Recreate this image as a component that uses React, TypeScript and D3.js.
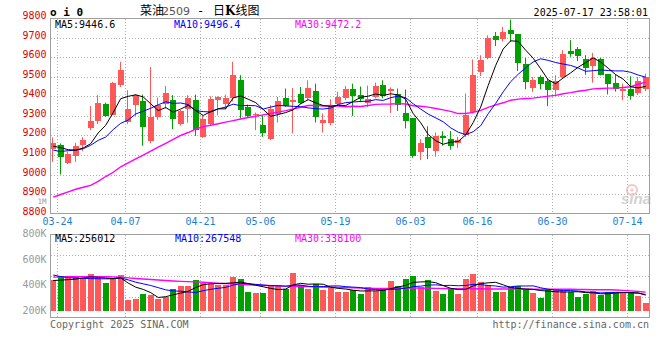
import * as d3 from "d3";

// daily candles, 03-21 .. 07-17 (index 0 is the half-hidden first bar)
const open = [9130, 9150, 9060, 9096, 9150, 9236, 9273, 9363, 9307, 9457, 9270, 9355, 9375, 9171, 9292, 9363, 9383, 9258, 9337, 9380, 9193, 9261, 9380, 9363, 9389, 9482, 9346, 9305, 9253, 9181, 9312, 9389, 9372, 9411, 9389, 9426, 9264, 9264, 9363, 9389, 9436, 9409, 9368, 9397, 9460, 9425, 9410, 9317, 9288, 9116, 9190, 9121, 9196, 9181, 9162, 9202, 9320, 9524, 9598, 9708, 9693, 9737, 9717, 9566, 9444, 9500, 9480, 9434, 9500, 9631, 9640, 9589, 9555, 9589, 9512, 9466, 9425, 9438, 9415, 9436];
const high = [9190, 9159, 9116, 9162, 9191, 9351, 9406, 9368, 9474, 9576, 9431, 9412, 9409, 9550, 9394, 9453, 9406, 9330, 9406, 9409, 9303, 9400, 9400, 9409, 9576, 9508, 9358, 9317, 9303, 9355, 9397, 9440, 9443, 9448, 9482, 9465, 9312, 9385, 9423, 9453, 9465, 9450, 9455, 9470, 9482, 9445, 9440, 9435, 9290, 9181, 9247, 9215, 9222, 9222, 9193, 9414, 9589, 9610, 9712, 9729, 9755, 9792, 9717, 9596, 9499, 9507, 9490, 9507, 9636, 9687, 9652, 9610, 9622, 9596, 9512, 9511, 9465, 9503, 9499, 9516];
const low = [9065, 9001, 9054, 9065, 9120, 9227, 9258, 9295, 9304, 9448, 9258, 9300, 9147, 9160, 9280, 9337, 9232, 9250, 9265, 9198, 9188, 9253, 9303, 9334, 9375, 9287, 9290, 9227, 9193, 9176, 9266, 9346, 9210, 9360, 9380, 9266, 9215, 9252, 9355, 9380, 9300, 9370, 9345, 9390, 9390, 9315, 9325, 9236, 9086, 9074, 9079, 9091, 9147, 9127, 9137, 9193, 9312, 9504, 9589, 9657, 9680, 9678, 9530, 9436, 9423, 9436, 9350, 9406, 9492, 9602, 9580, 9510, 9470, 9507, 9410, 9424, 9380, 9383, 9406, 9426];
const close = [9164, 9091, 9103, 9145, 9176, 9273, 9366, 9300, 9468, 9533, 9333, 9406, 9244, 9295, 9355, 9416, 9285, 9324, 9389, 9227, 9283, 9385, 9397, 9389, 9508, 9329, 9300, 9312, 9215, 9334, 9375, 9351, 9380, 9368, 9443, 9295, 9278, 9358, 9397, 9436, 9400, 9385, 9385, 9455, 9400, 9438, 9355, 9275, 9094, 9162, 9137, 9195, 9188, 9147, 9179, 9307, 9508, 9584, 9700, 9690, 9729, 9717, 9570, 9474, 9484, 9462, 9430, 9477, 9618, 9615, 9606, 9546, 9598, 9510, 9462, 9437, 9435, 9401, 9480, 9500];

const ma5 = [9145, 9138, 9127, 9125, 9136, 9158, 9213, 9252, 9317, 9388, 9400, 9408, 9397, 9362, 9327, 9343, 9319, 9335, 9354, 9328, 9302, 9322, 9336, 9336, 9392, 9402, 9385, 9368, 9333, 9298, 9307, 9317, 9331, 9362, 9383, 9367, 9353, 9348, 9354, 9353, 9374, 9395, 9401, 9412, 9405, 9413, 9407, 9385, 9312, 9265, 9205, 9173, 9155, 9166, 9169, 9203, 9266, 9345, 9456, 9558, 9642, 9684, 9681, 9636, 9595, 9541, 9484, 9465, 9494, 9520, 9549, 9572, 9597, 9575, 9544, 9511, 9488, 9449, 9443, 9451];
const ma10 = [9125, 9118, 9122, 9125, 9132, 9150, 9175, 9192, 9230, 9262, 9279, 9310, 9324, 9339, 9357, 9372, 9364, 9366, 9358, 9327, 9322, 9320, 9336, 9345, 9360, 9352, 9353, 9352, 9335, 9345, 9354, 9351, 9349, 9347, 9341, 9337, 9335, 9340, 9358, 9368, 9371, 9374, 9375, 9383, 9379, 9393, 9401, 9393, 9362, 9335, 9309, 9290, 9270, 9239, 9217, 9204, 9219, 9250, 9311, 9364, 9423, 9475, 9513, 9546, 9576, 9592, 9584, 9573, 9565, 9558, 9545, 9528, 9531, 9535, 9532, 9530, 9530, 9523, 9509, 9498];
const ma30 = [8885, 8898, 8912, 8925, 8935, 8945, 8965, 8990, 9012, 9040, 9060, 9080, 9100, 9120, 9140, 9160, 9180, 9200, 9215, 9232, 9245, 9252, 9260, 9268, 9276, 9284, 9292, 9298, 9305, 9312, 9319, 9327, 9336, 9344, 9353, 9354, 9351, 9353, 9350, 9347, 9349, 9348, 9353, 9359, 9360, 9361, 9363, 9361, 9352, 9349, 9345, 9338, 9331, 9323, 9312, 9312, 9318, 9328, 9344, 9356, 9367, 9380, 9386, 9389, 9391, 9396, 9401, 9405, 9413, 9419, 9426, 9431, 9438, 9440, 9442, 9442, 9445, 9449, 9462, 9473];

// volume in thousands
const volK = [441, 472, 454, 462, 454, 488, 454, 420, 449, 480, 284, 292, 331, 323, 292, 310, 370, 394, 394, 441, 420, 409, 402, 402, 464, 449, 347, 339, 339, 402, 402, 370, 498, 402, 370, 409, 362, 383, 349, 349, 362, 331, 383, 357, 362, 433, 394, 449, 472, 383, 441, 357, 331, 370, 331, 449, 488, 425, 402, 349, 349, 383, 394, 370, 341, 302, 362, 368, 357, 349, 310, 328, 357, 323, 349, 336, 349, 349, 315, 263];
const vma5 = [437, 440, 444, 448, 457, 466, 462, 456, 453, 458, 417, 385, 367, 342, 304, 310, 325, 338, 352, 382, 404, 412, 413, 415, 419, 425, 413, 400, 388, 375, 366, 370, 402, 415, 408, 410, 408, 385, 375, 370, 361, 355, 355, 356, 359, 373, 386, 399, 422, 426, 428, 420, 397, 376, 366, 368, 394, 413, 419, 423, 403, 382, 375, 369, 367, 358, 354, 349, 346, 348, 349, 342, 340, 333, 333, 339, 343, 341, 340, 322];
const vma10 = [480, 468, 460, 456, 454, 452, 451, 450, 451, 457, 442, 424, 411, 398, 381, 364, 355, 353, 347, 343, 357, 368, 376, 383, 401, 415, 412, 407, 401, 397, 396, 392, 401, 401, 392, 388, 389, 394, 395, 389, 385, 382, 370, 366, 365, 367, 370, 377, 389, 393, 401, 403, 398, 399, 396, 398, 407, 405, 398, 394, 385, 388, 394, 394, 395, 380, 368, 362, 358, 358, 354, 348, 344, 340, 341, 344, 343, 341, 337, 328];
const vma30 = [464, 466, 467, 468, 468, 468, 468, 467, 466, 463, 458, 453, 449, 445, 441, 437, 433, 430, 428, 426, 423, 419, 416, 413, 410, 407, 404, 402, 400, 397, 395, 393, 392, 390, 389, 388, 386, 384, 383, 381, 379, 377, 376, 375, 375, 375, 376, 377, 378, 377, 376, 375, 374, 373, 372, 372, 373, 372, 371, 371, 371, 370, 370, 370, 369, 369, 369, 368, 368, 368, 367, 366, 365, 364, 364, 363, 360, 356, 351, 346];

const dateTicks = ["03-24", "04-07", "04-21", "05-06", "05-19", "06-03", "06-16", "06-30", "07-14"];
const dateTickIdx = [1, 10, 20, 28, 38, 48, 57, 67, 77];
const priceTicks = [9800, 9700, 9600, 9500, 9400, 9300, 9200, 9100, 9000, 8900, 8800];
const volTicks = [800, 600, 400, 200];

const W = 660;
const H = 360;
const L = 50.5;
const R = 649.5;
const pTop = 18.5;
const pBot = 213.5;
const vTop = 234.5;
const vBot = 317.5;
const vBase = 310.7;

const RED = "#ff5858";
const GREEN = "#00a000";
const GRID = "#b0b0b0";
const BORDER = "#a0a0a0";
const MONO = "'DejaVu Sans Mono', monospace";

export default function App() {
  const x = d3.scaleLinear().domain([0, close.length - 1]).range([53.2, 645.7]);
  const y = d3.scaleLinear().domain([8800, 9800]).range([213.7, 18.1]);
  const vy = d3.scaleLinear().domain([200, 800]).range([vBase, 234.3]);

  const pLine = d3.line<number>().x((_, i) => x(i)).y((d) => y(d));
  const vLine = d3.line<number>().x((_, i) => x(i)).y((d) => vy(d));

  const gridX = dateTickIdx.map((k) => Math.round(x(k) - 3.5) + 0.5);
  const volGridY = [1, 2, 3].map((i) => Math.round(vTop + (i * (vBot - vTop)) / 4) + 0.5);

  return (
    <svg
      width={W}
      height={H}
      style={{ position: "absolute", left: 0, top: 0, background: "#fff" }}
      fontFamily={MONO}
      fontSize={10}
    >
      <defs>
        <clipPath id="clip-p">
          <rect x={L + 0.5} y={pTop} width={R - L - 0.5} height={pBot - pTop} />
        </clipPath>
        <clipPath id="clip-v">
          <rect x={L + 0.5} y={vTop} width={R - L - 0.5} height={vBot - vTop} />
        </clipPath>
      </defs>

      {/* header */}
      <text x={50} y={16} fontSize={11} fontWeight="bold" fill="#000">o i 0</text>
      <text x={140} y={15} fontSize={12} fontFamily="'Noto Sans CJK SC'" fill="#000">菜油</text>
      <text x={162} y={15} fontSize={11} fontFamily="'DejaVu Sans'" fill="#555">2509</text>
      <text x={197} y={15} fontSize={12} fill="#000">-</text>
      <text x={213} y={15} fontSize={12} fontFamily="'Noto Sans CJK SC'" fill="#000">
        日<tspan fontWeight="bold" fontFamily="'DejaVu Serif'">K</tspan>线图
      </text>
      <text x={648} y={15.5} textAnchor="end" fill="#000">2025-07-17 23:58:01</text>

      {/* price grid */}
      {priceTicks.slice(1, -1).map((p) => (
        <line key={p} x1={L} x2={R} y1={Math.round(y(p)) + 0.5} y2={Math.round(y(p)) + 0.5}
          stroke={GRID} strokeDasharray="1,2" shapeRendering="crispEdges" />
      ))}
      {gridX.map((gx, i) => (
        <g key={i}>
          <line x1={gx} x2={gx} y1={pTop} y2={pBot} stroke={GRID} strokeDasharray="1,2" shapeRendering="crispEdges" />
          <line x1={gx} x2={gx} y1={vTop} y2={vBot} stroke={GRID} strokeDasharray="1,2" shapeRendering="crispEdges" />
        </g>
      ))}
      {volGridY.map((gy) => (
        <line key={gy} x1={L} x2={R} y1={gy} y2={gy} stroke={GRID} strokeDasharray="1,2" shapeRendering="crispEdges" />
      ))}

      {/* sina watermark */}
      <g opacity={0.75}>
        <circle cx={632} cy={190} r={5} fill="none" stroke="#f2b4b4" strokeWidth={2} />
        <circle cx={632} cy={190} r={1.6} fill="#f2b4b4" />
        <text x={636} y={204} textAnchor="middle" fontSize={15} fontStyle="italic" fontWeight="bold"
          fontFamily="'Liberation Sans'" fill="#c4c4c4">sina</text>
      </g>

      {/* candles */}
      <g clipPath="url(#clip-p)">
        {close.map((c, k) => {
          const o = open[k];
          const col = c >= o ? RED : GREEN;
          const bx = Math.round(x(k) - 3);
          const top = y(Math.max(o, c));
          const h = Math.max(1, Math.abs(y(o) - y(c)));
          return (
            <g key={k}>
              <line x1={bx + 2.5} x2={bx + 2.5} y1={y(high[k])} y2={y(low[k])} stroke={col} />
              <rect x={bx} y={top} width={6} height={h} fill={col} shapeRendering="crispEdges" />
            </g>
          );
        })}
        <path d={pLine(ma30) ?? ""} fill="none" stroke="#ff00ff" strokeWidth={1.4} />
        <path d={pLine(ma10) ?? ""} fill="none" stroke="#0000ff" strokeWidth={1} />
        <path d={pLine(ma5) ?? ""} fill="none" stroke="#000" strokeWidth={1} />
      </g>

      {/* volume */}
      <g clipPath="url(#clip-v)">
        {volK.map((v, k) => {
          const bx = Math.round(x(k) - 3);
          return (
            <rect key={k} x={bx} y={vy(v)} width={6} height={vBase - vy(v)}
              fill={close[k] >= open[k] ? RED : GREEN} shapeRendering="crispEdges" />
          );
        })}
        <path d={vLine(vma30) ?? ""} fill="none" stroke="#ff00ff" strokeWidth={1.4} />
        <path d={vLine(vma10) ?? ""} fill="none" stroke="#0000ff" strokeWidth={1} />
        <path d={vLine(vma5) ?? ""} fill="none" stroke="#000" strokeWidth={1} />
      </g>

      {/* borders */}
      <rect x={L} y={pTop} width={R - L} height={pBot - pTop} fill="none" stroke={BORDER} shapeRendering="crispEdges" />
      <rect x={L} y={vTop} width={R - L} height={vBot - vTop} fill="none" stroke={BORDER} shapeRendering="crispEdges" />

      {/* MA captions */}
      <text x={55} y={27.5} fill="#000">MA5:9446.6</text>
      <text x={174} y={27.5} fill="#0000ff">MA10:9496.4</text>
      <text x={295} y={27.5} fill="#ff00ff">MA30:9472.2</text>
      <text x={55} y={242} fill="#000">MA5:256012</text>
      <text x={175} y={242} fill="#0000ff">MA10:267548</text>
      <text x={295} y={242} fill="#ff00ff">MA30:338100</text>

      {/* y axes */}
      {priceTicks.map((p) => (
        <text key={p} x={46.5} y={y(p) + 1} textAnchor="end" fill="#e00000">{p}</text>
      ))}
      <text x={46.5} y={204} textAnchor="end" fontSize={7.5} fill="#999">1M</text>
      {volTicks.map((v) => (
        <text key={v} x={46.5} y={vy(v) + 3} textAnchor="end" fill="#999">{v}K</text>
      ))}

      {/* x axis */}
      {dateTicks.map((d, i) => (
        <text key={d} x={gridX[i]} y={225} textAnchor="middle" fill="#1a7fd4">{d}</text>
      ))}

      {/* footer */}
      <text x={50} y={327.6} fill="#666">Copyright 2025 SINA.COM</text>
      <text x={649} y={327.6} textAnchor="end" fill="#666">http://finance.sina.com.cn</text>
    </svg>
  );
}
